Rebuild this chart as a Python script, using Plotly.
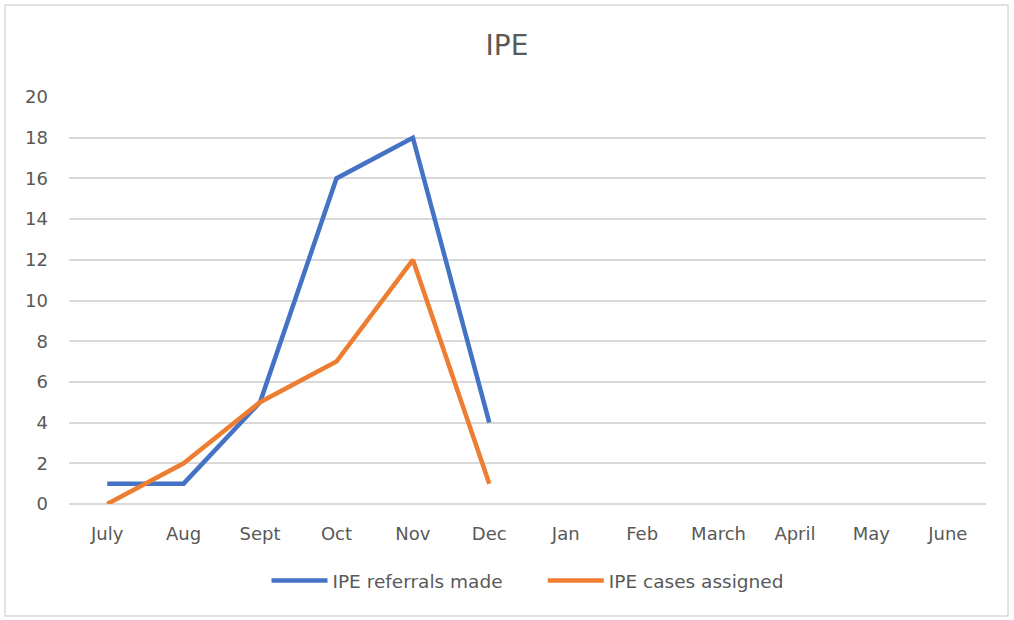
import plotly.graph_objects as go

months = ["July", "Aug", "Sept", "Oct", "Nov", "Dec", "Jan", "Feb", "March", "April", "May", "June"]
referrals = [1, 1, 5, 16, 18, 4]
assigned = [0, 2, 5, 7, 12, 1]

FONT = "DejaVu Sans, Liberation Sans, sans-serif"
W, H = 1014, 620
L, R, T, B = 69, 28, 97, 116
pw, ph = W - L - R, H - T - B

fig = go.Figure()
fig.add_trace(go.Scatter(x=months[:len(referrals)], y=referrals, mode="lines",
                         name="IPE referrals made" + "\u00a0" * 6,
                         line=dict(color="#4472C4", width=4.5)))
fig.add_trace(go.Scatter(x=months[:len(assigned)], y=assigned, mode="lines",
                         name="IPE cases assigned",
                         line=dict(color="#ED7D31", width=4.5)))
fig.add_trace(go.Scatter(x=months, y=[None] * len(months), showlegend=False, hoverinfo="skip"))

fig.update_layout(
    width=W, height=H,
    margin=dict(l=L, r=R, t=T, b=B),
    paper_bgcolor="white", plot_bgcolor="white",
    font=dict(family=FONT, color="#595959", size=18),
    title=dict(text="IPE", x=0.5, xanchor="center", y=1 - 45 / H, yanchor="middle",
               font=dict(size=28, color="#595959", family=FONT)),
    xaxis=dict(categoryorder="array", categoryarray=months, range=[-0.5, 11.5],
               showgrid=False, showline=False, zeroline=False, ticks="",
               ticklabelstandoff=17, tickfont=dict(size=18, color="#595959")),
    yaxis=dict(range=[0, 20], dtick=2, showgrid=True, gridcolor="#D9D9D9", gridwidth=1.5,
               zeroline=True, zerolinecolor="#D9D9D9", zerolinewidth=1.5,
               showline=False, ticks="", ticklabelstandoff=20,
               tickfont=dict(size=18, color="#595959")),
    legend=dict(orientation="h", x=0.5, xanchor="center", y=-(581 - 504) / ph, yanchor="middle",
                font=dict(size=18.5, color="#595959"), itemwidth=56),
    showlegend=True,
    shapes=[dict(type="rect", xref="paper", yref="paper",
                 x0=(5 - L) / pw, x1=(1008 - L) / pw,
                 y0=(504 - 616) / ph, y1=(504 - 5) / ph,
                 line=dict(color="#D9D9D9", width=1.5), fillcolor="rgba(0,0,0,0)", layer="below")],
)

fig.write_html("out.html", config={"displayModeBar": False},
               post_script="document.body.style.margin='0';")
